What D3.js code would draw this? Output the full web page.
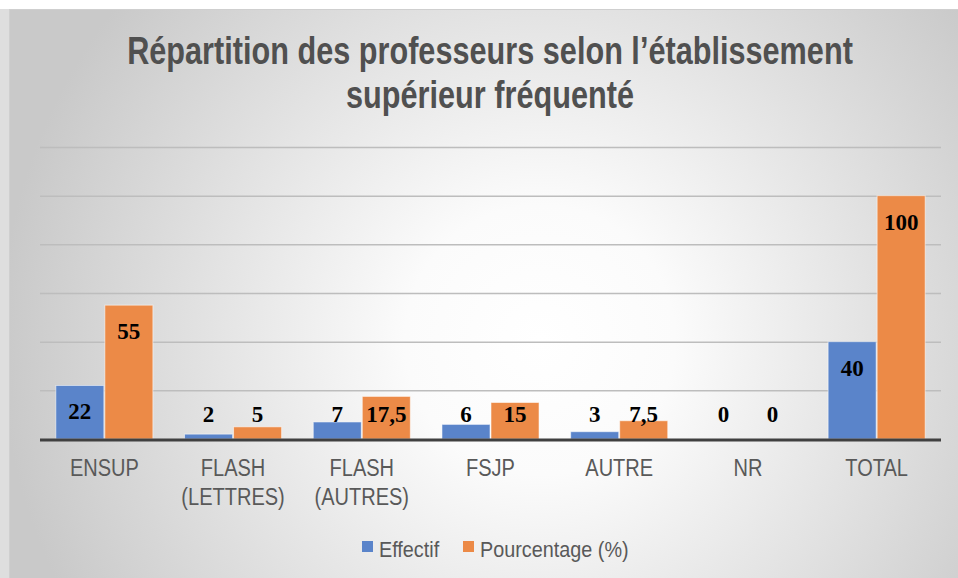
<!DOCTYPE html>
<html>
<head>
<meta charset="utf-8">
<script src="https://cdn.jsdelivr.net/npm/d3@7"></script>
<style>
  body { margin: 0; background: #fff; }
  svg { display: block; }
</style>
</head>
<body>
<svg id="chart"></svg>
<script>
var categories = [["ENSUP"], ["FLASH", "(LETTRES)"], ["FLASH", "(AUTRES)"], ["FSJP"], ["AUTRE"], ["NR"], ["TOTAL"]];
var seriesNames = ["Effectif", "Pourcentage (%)"];
var effectif = [22, 2, 7, 6, 3, 0, 40];
var pourcentage = [55, 5, 17.5, 15, 7.5, 0, 100];
var valueLabels = [["22", "2", "7", "6", "3", "0", "40"], ["55", "5", "17,5", "15", "7,5", "0", "100"]];
var titleLines = ["Répartition des professeurs selon l’établissement", "supérieur fréquenté"];
var colors = ["#5a84ca", "#ec8a47"];

var width = 958, height = 578;
var margin = { top: 147, right: 17, bottom: 139, left: 40 };

var svg = d3.select("#chart")
    .attr("width", width)
    .attr("height", height);

// background with radial gradient like the office chart
var defs = svg.append("defs");
var grad = defs.append("radialGradient")
    .attr("id", "bg")
    .attr("gradientUnits", "userSpaceOnUse")
    .attr("cx", 540).attr("cy", 340).attr("r", 540);
grad.append("stop").attr("offset", "0").attr("stop-color", "#ffffff");
grad.append("stop").attr("offset", "0.25").attr("stop-color", "#fbfbfb");
grad.append("stop").attr("offset", "1").attr("stop-color", "#c9c9c9");

svg.append("rect")
    .attr("x", 0).attr("y", 9)
    .attr("width", 9).attr("height", height)
    .attr("fill", "#dedede");

svg.append("rect")
    .attr("x", 9.5).attr("y", 9.5)
    .attr("width", width + 10).attr("height", height + 10)
    .attr("fill", "url(#bg)")
    .attr("stroke", "#cfcfcf")
    .attr("stroke-width", 1);

// squeeze text to look like a narrow font
function narrow(factor) {
  return function(sel) {
    sel.each(function() {
      var w = this.getComputedTextLength();
      d3.select(this)
        .attr("textLength", w * factor)
        .attr("lengthAdjust", "spacingAndGlyphs");
    });
  };
}

// title, squeezed horizontally with a transform
var titleScale = 0.807;
svg.append("g")
    .attr("transform", "translate(490,0) scale(" + titleScale + ",1)")
  .selectAll("text")
  .data(titleLines)
  .enter()
  .append("text")
    .attr("x", 0)
    .attr("y", (d, i) => 64 + i * 44)
    .attr("text-anchor", "middle")
    .attr("font-family", "'Liberation Sans', Arial, sans-serif")
    .attr("font-weight", "bold")
    .attr("font-size", 38)
    .attr("fill", "#505050")
    .text(d => d);

var x0 = d3.scaleBand()
    .domain(d3.range(categories.length))
    .range([margin.left, width - margin.right])
    .paddingInner(0.246)
    .paddingOuter(0.123);

var x1 = d3.scaleBand()
    .domain([0, 1])
    .range([0, x0.bandwidth()])
    .paddingInner(0.02);

var y = d3.scaleLinear()
    .domain([0, 120])
    .range([height - margin.bottom, margin.top]);

// gridlines
var yAxis = d3.axisLeft(y)
    .tickValues(d3.range(20, 121, 20))
    .tickSize(-(width - margin.left - margin.right))
    .tickFormat("");

svg.append("g")
    .attr("transform", "translate(" + margin.left + ",0)")
    .call(yAxis)
    .call(g => g.select(".domain").remove())
    .call(g => g.selectAll(".tick line")
        .attr("stroke", "#bdbdbd")
        .attr("stroke-width", 1.5));

var rows = categories.map((c, i) => ({ i: i, values: [effectif[i], pourcentage[i]] }));

var groups = svg.append("g")
  .selectAll(".group")
  .data(rows)
  .enter()
  .append("g")
    .classed("group", true)
    .attr("transform", d => "translate(" + x0(d.i) + ",0)");

groups.selectAll("rect")
  .data(d => d.values.map((v, s) => ({ s: s, v: v, i: d.i })))
  .enter()
  .append("rect")
    .attr("x", d => x1(d.s))
    .attr("width", x1.bandwidth())
    .attr("y", d => y(d.v))
    .attr("height", d => y(0) - y(d.v))
    .attr("fill", d => colors[d.s])
    .attr("stroke", "rgba(255,255,255,0.55)")
    .attr("stroke-width", 1);

groups.selectAll(".val")
  .data(d => d.values.map((v, s) => ({ s: s, v: v, i: d.i })))
  .enter()
  .append("text")
    .classed("val", true)
    .attr("x", d => x1(d.s) + x1.bandwidth() / 2)
    .attr("y", d => Math.min(y(d.v) + 26, y(0) - 25) + 8)
    .attr("text-anchor", "middle")
    .attr("font-family", "'Liberation Serif', 'Times New Roman', serif")
    .attr("font-weight", "bold")
    .attr("font-size", 23)
    .attr("fill", "#000")
    .text(d => valueLabels[d.s][d.i]);

// baseline
svg.append("line")
    .attr("x1", margin.left)
    .attr("x2", width - margin.right)
    .attr("y1", y(0) + 1)
    .attr("y2", y(0) + 1)
    .attr("stroke", "#404040")
    .attr("stroke-width", 3);

// category labels
var catText = svg.append("g")
  .selectAll("text")
  .data(categories)
  .enter()
  .append("text")
    .attr("text-anchor", "middle")
    .attr("font-family", "'Liberation Sans', Arial, sans-serif")
    .attr("font-size", 23)
    .attr("fill", "#595959");

catText.selectAll("tspan")
  .data((d, i) => d.map(line => ({ line: line, i: i })))
  .enter()
  .append("tspan")
    .attr("x", d => x0(d.i) + x0.bandwidth() / 2)
    .attr("y", (d, j) => 476 + j * 29)
    .text(d => d.line)
    .call(narrow(0.87));

// legend
var legend = svg.append("g");
var legendX = [362, 463];
seriesNames.forEach((name, s) => {
  legend.append("rect")
      .attr("x", legendX[s])
      .attr("y", 541)
      .attr("width", 11)
      .attr("height", 11)
      .attr("fill", colors[s]);
  legend.append("text")
      .attr("x", legendX[s] + 17)
      .attr("y", 557)
      .attr("font-family", "'Liberation Sans', Arial, sans-serif")
      .attr("font-size", 22.5)
      .attr("fill", "#595959")
      .text(name)
      .call(narrow(0.88));
});
</script>
</body>
</html>
